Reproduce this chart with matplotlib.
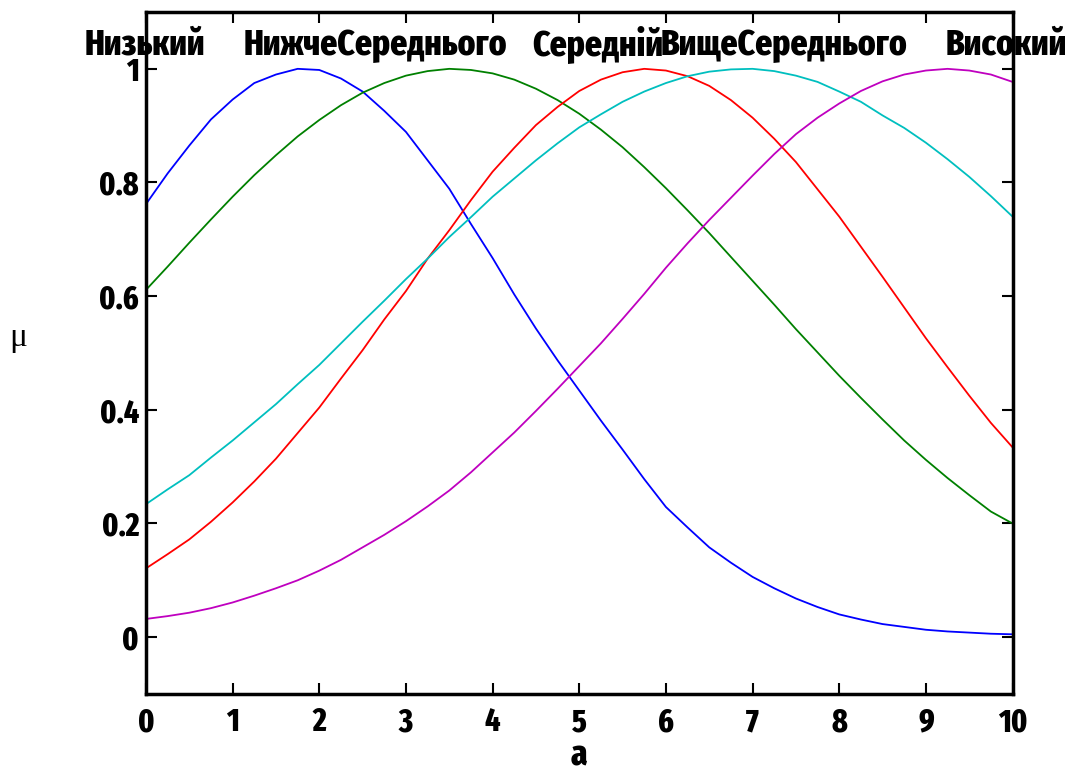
import matplotlib
matplotlib.use("Agg")
import matplotlib.pyplot as plt

# membership values at a step of 0.25
a = [0, 0.25, 0.5, 0.75, 1, 1.25, 1.5, 1.75, 2, 2.25, 2.5, 2.75, 3, 3.25,
     3.5, 3.75, 4, 4.25, 4.5, 4.75, 5, 5.25, 5.5, 5.75, 6, 6.25, 6.5, 6.75,
     7, 7.25, 7.5, 7.75, 8, 8.25, 8.5, 8.75, 9, 9.25, 9.5, 9.75, 10]
low = [0.762, 0.816, 0.865, 0.911, 0.946, 0.975, 0.990, 1.000, 0.998, 0.983,
       0.960, 0.926, 0.889, 0.839, 0.789, 0.727, 0.667, 0.603, 0.543, 0.487,
       0.434, 0.381, 0.330, 0.278, 0.229, 0.193, 0.158, 0.131, 0.106, 0.086,
       0.068, 0.053, 0.040, 0.031, 0.023, 0.018, 0.013, 0.010, 0.008, 0.006, 0.005]
below_mid = [0.611, 0.652, 0.694, 0.735, 0.775, 0.813, 0.848, 0.881, 0.910, 0.936,
             0.958, 0.975, 0.988, 0.996, 1.000, 0.998, 0.992, 0.981, 0.965, 0.945,
             0.921, 0.893, 0.862, 0.827, 0.790, 0.751, 0.711, 0.669, 0.627, 0.585,
             0.542, 0.501, 0.460, 0.421, 0.383, 0.346, 0.312, 0.280, 0.250, 0.221, 0.200]
mid = [0.121, 0.146, 0.172, 0.203, 0.237, 0.274, 0.314, 0.359, 0.404, 0.455,
       0.505, 0.559, 0.609, 0.666, 0.716, 0.769, 0.819, 0.861, 0.901, 0.933,
       0.961, 0.981, 0.994, 1.000, 0.997, 0.987, 0.970, 0.945, 0.914, 0.877,
       0.836, 0.788, 0.740, 0.687, 0.634, 0.580, 0.526, 0.475, 0.425, 0.377, 0.334]
above_mid = [0.234, 0.260, 0.285, 0.316, 0.346, 0.378, 0.410, 0.445, 0.479, 0.517,
             0.555, 0.592, 0.630, 0.666, 0.704, 0.739, 0.775, 0.807, 0.839, 0.869,
             0.897, 0.920, 0.942, 0.960, 0.975, 0.987, 0.995, 0.999, 1.000, 0.996,
             0.988, 0.977, 0.960, 0.942, 0.918, 0.896, 0.870, 0.841, 0.810, 0.776, 0.740]
high = [0.032, 0.037, 0.043, 0.051, 0.061, 0.073, 0.086, 0.100, 0.117, 0.136,
        0.158, 0.180, 0.204, 0.230, 0.258, 0.290, 0.325, 0.360, 0.398, 0.437,
        0.477, 0.517, 0.560, 0.604, 0.650, 0.693, 0.734, 0.773, 0.812, 0.850,
        0.885, 0.914, 0.939, 0.961, 0.978, 0.990, 0.997, 1.000, 0.997, 0.990, 0.977]

series = [low, below_mid, mid, above_mid, high]
colors = ["#0000ff", "#008000", "#ff0000", "#00bfbf", "#bf00bf"]
names = ["Низький", "НижчеСереднього", "Середній", "ВищеСереднього", "Високий"]
name_x = [-0.01, 2.65, 5.21, 7.36, 9.93]

xticks = list(range(0, 11))
yticks = [0, 0.2, 0.4, 0.6, 0.8, 1]
ytick_labels = ["0", "0.2", "0.4", "0.6", "0.8", "1"]

bold = dict(family=["Fira Sans Extra Condensed", "DejaVu Sans"], weight=800)

fig = plt.figure(figsize=(10.75, 7.74), dpi=100)
ax = fig.add_axes([0.1358, 0.1034, 0.8061, 0.8811])

for ys, c in zip(series, colors):
    ax.plot(a, ys, color=c, lw=1.3)

ax.set_xlim(0, 10)
ax.set_ylim(-0.1, 1.1)
ax.set_xticks(xticks)
ax.set_xticklabels([str(t) for t in xticks], fontsize=23, **bold)
ax.set_yticks(yticks)
ax.set_yticklabels(ytick_labels, fontsize=23, **bold)
ax.tick_params(direction="in", length=8, width=1.5, top=True, right=True)
ax.tick_params(axis="x", pad=9)
ax.tick_params(axis="y", pad=5)
for sp in ax.spines.values():
    sp.set_linewidth(2.5)

for name, x in zip(names, name_x):
    ax.text(x, 1.025, name, ha="center", va="baseline", fontsize=26,
            clip_on=False, **bold)

ax.text(0.5, -0.105, "a", transform=ax.transAxes, ha="center", va="baseline",
        fontsize=26, **bold)
ax.text(-0.148, 0.522, "μ", transform=ax.transAxes, ha="center", va="center",
        fontsize=24, family="Liberation Serif")

fig.savefig("out.png", dpi=100)
